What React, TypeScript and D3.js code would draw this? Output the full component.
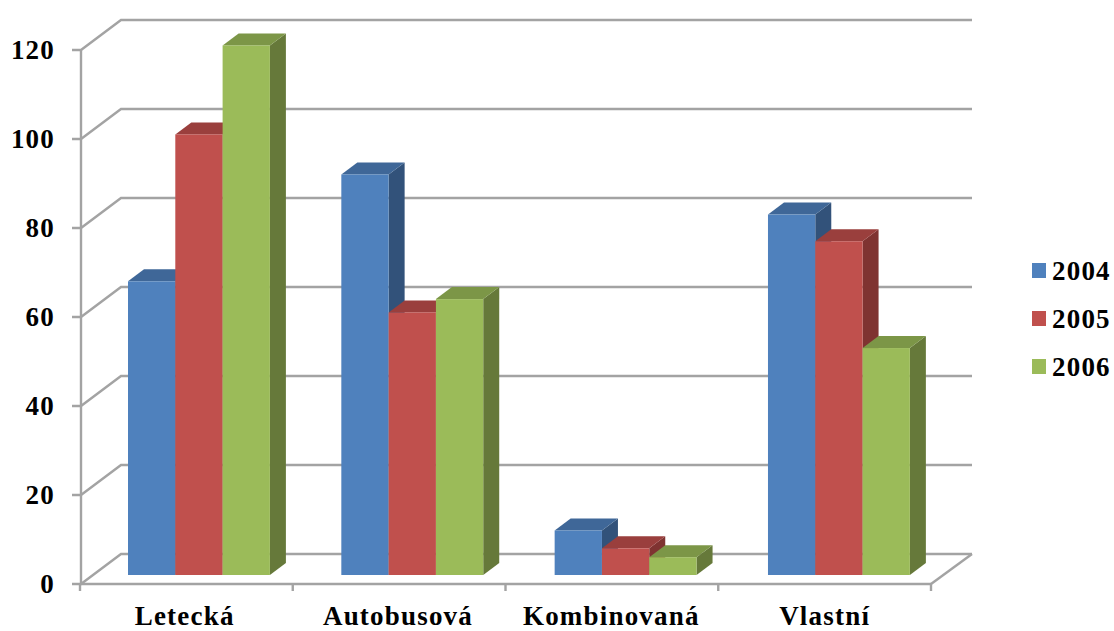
import React from "react";
import * as d3 from "d3";

const categories = ["Letecká", "Autobusová", "Kombinovaná", "Vlastní"];
const years = ["2004", "2005", "2006"];
const values2004 = [66, 90, 10, 81];
const values2005 = [99, 59, 6, 75];
const values2006 = [119, 62, 4, 51];
const seriesValues = [values2004, values2005, values2006];
const tickValues = [0, 20, 40, 60, 80, 100, 120];

const frontColors = ["#4f81bd", "#c0504d", "#9bbb59"];
const topColors = ["#3f6798", "#9a3f3d", "#7c9647"];
const sideColors = ["#32527a", "#7f3331", "#66793a"];
const gridColor = "#a3a3a3";

const W = 1114;
const H = 631;
const left = 81;
const right = 931;
const floorY = 584;
const topY = 50;
const wallDx = 40;
const wallDy = -30;
const barDx = 16;
const barDy = -12;
const barBase = 575;
const barGroupInset = 48;
const barW = 47.3;
const labelSize = 27;
const labelSpacing = 1.2;

const y = d3.scaleLinear().domain([0, 120]).range([floorY, topY]);
// Axis ticks sit on the floor's front edge; bars run on a slightly wider step.
const tickBand = d3.scaleBand<string>().domain(categories).range([left - 1, right]);
const band = d3.scaleBand<string>().domain(categories).range([80, 933.3]);
const poly = (pts: number[][]) => d3.line()(pts as [number, number][]) + "Z";

const font = "'Liberation Serif', serif";

function Bar({ cat, s, v }: { cat: string; s: number; v: number }) {
  const x0 = (band(cat) as number) + barGroupInset + s * barW;
  const x1 = x0 + barW;
  const h = floorY - y(v);
  const t = barBase - h;
  return (
    <g>
      <path
        d={poly([[x1, t], [x1 + barDx, t + barDy], [x1 + barDx, barBase + barDy], [x1, barBase]])}
        fill={sideColors[s]}
      />
      <path
        d={poly([[x0, t], [x0 + barDx, t + barDy], [x1 + barDx, t + barDy], [x1, t]])}
        fill={topColors[s]}
      />
      <rect x={x0} y={t} width={barW} height={h} fill={frontColors[s]} />
    </g>
  );
}

export default function App() {
  return (
    <svg
      width={W}
      height={H}
      style={{ position: "absolute", left: 0, top: 0, background: "#fff" }}
      fontFamily={font}
      fontWeight="bold"
    >
      {/* back wall gridlines and their diagonals down to the value axis */}
      {tickValues.map((t) => (
        <g key={t} stroke={gridColor} strokeWidth={2.4} fill="none">
          <path
            d={d3.line()([
              [left - 9, y(t)],
              [left, y(t)],
              [left + wallDx, y(t) + wallDy],
              [right + wallDx + 1, y(t) + wallDy],
            ] as [number, number][]) as string}
          />
        </g>
      ))}

      {/* floor edges and axes */}
      <g stroke={gridColor} strokeWidth={2.4} fill="none">
        <line x1={left} x2={left} y1={topY} y2={floorY} />
        <line x1={left} x2={right} y1={floorY} y2={floorY} />
        <line x1={right} x2={right + wallDx + 1} y1={floorY} y2={floorY + wallDy} />
        {categories.map((c) => (
          <line key={c} x1={tickBand(c)} x2={tickBand(c)} y1={floorY} y2={floorY + 7} />
        ))}
        <line x1={right} x2={right} y1={floorY} y2={floorY + 7} />
      </g>

      {categories.map((c, ci) =>
        years.map((_, s) => (
          <Bar key={c + s} cat={c} s={s} v={seriesValues[s][ci]} />
        ))
      )}

      {/* value axis labels */}
      {tickValues.map((t) => (
        <text
          key={t}
          x={55}
          y={y(t) + 9}
          textAnchor="end"
          fontSize={labelSize}
          letterSpacing={labelSpacing}
          fill="#000"
        >
          {t}
        </text>
      ))}

      {/* category labels */}
      {categories.map((c) => (
        <text
          key={c}
          x={(band(c) as number) + band.bandwidth() / 2 - 2}
          y={625}
          textAnchor="middle"
          fontSize={labelSize}
          letterSpacing={labelSpacing}
          fill="#000"
        >
          {c}
        </text>
      ))}

      {/* legend */}
      {years.map((yr, i) => (
        <g key={yr}>
          <rect x={1032} y={263 + i * 48} width={14} height={15} fill={frontColors[i]} />
          <text x={1052} y={280 + i * 48} fontSize={labelSize} letterSpacing={labelSpacing} fill="#000">
            {yr}
          </text>
        </g>
      ))}
    </svg>
  );
}
